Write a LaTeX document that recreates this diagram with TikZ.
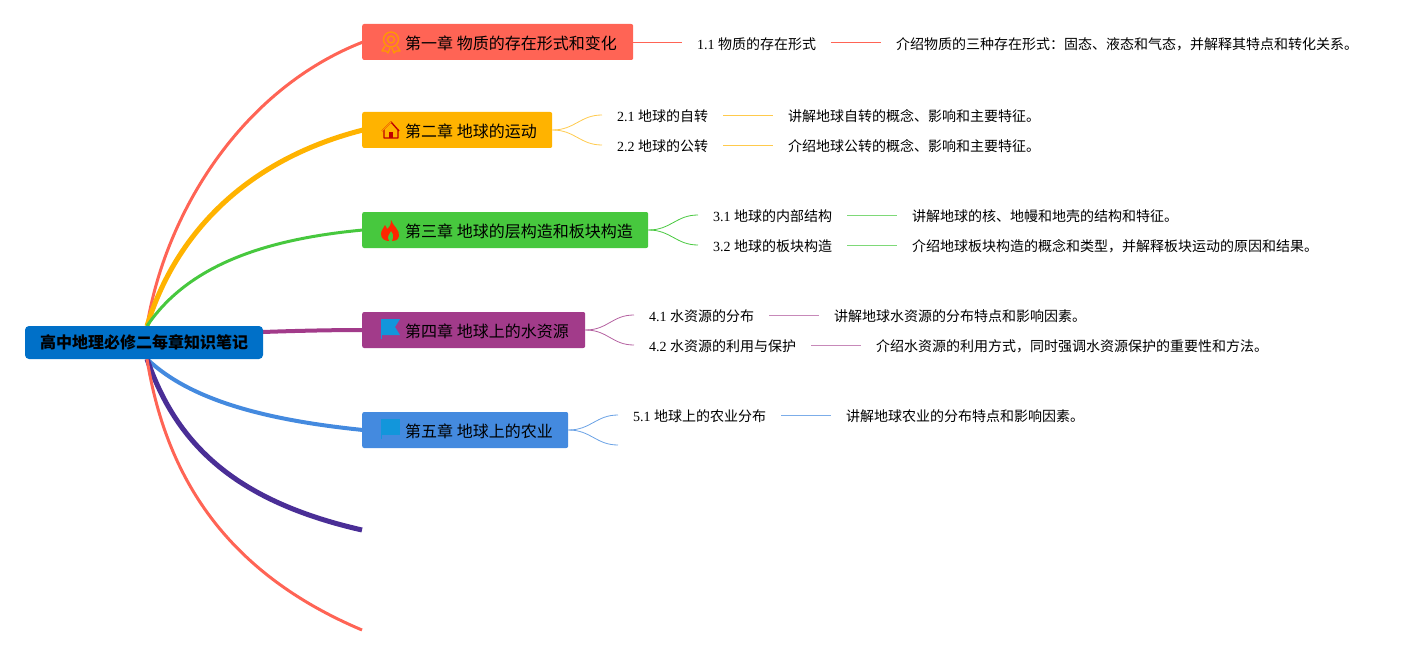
\documentclass[tikz,border=0pt]{standalone}
\usepackage{fontspec}
\setmainfont{Liberation Serif}
\newfontfamily\cjk{Noto Sans CJK SC}
\definecolor{rootblue}{HTML}{0070C8}
\definecolor{redc}{HTML}{FF6455}
\definecolor{yellowc}{HTML}{FFB300}
\definecolor{greenc}{HTML}{47C83E}
\definecolor{plumc}{HTML}{A23B8A}
\definecolor{bluec}{HTML}{448ADF}
\definecolor{indigoc}{HTML}{4A2E96}
\definecolor{flagblue}{HTML}{1296DB}
\tikzset{
  rootbox/.style={fill=rootblue, rounded corners=4pt, minimum height=33pt, minimum width=238pt, inner sep=0pt, font=\fontsize{16}{16}\cjk\bfseries},
  chapbox/.style={fill=#1, rounded corners=2pt, minimum height=36pt, inner sep=0pt, anchor=west, font=\fontsize{16}{16}\cjk},
  secnode/.style={inner xsep=15pt, inner ysep=0pt, anchor=west, font=\fontsize{14}{14}\selectfont},
  branch/.style={draw=#1, line width=3pt},
  twig/.style={draw=#1, line width=0.8pt},
}
\begin{document}
\begin{tikzpicture}[x=1pt,y=-1pt]
\useasboundingbox (0,0) rectangle (1418,655);

% main curves first, the boxes lie over them
\coordinate (rt) at (147,326);
\coordinate (rb) at (147,359);
\coordinate (free1) at (362,530);
\coordinate (free2) at (362,630);

\draw[branch=redc] (rt) .. controls (165,215) and (240,90) .. (363,42);
\draw[branch=yellowc, line width=5pt] (rt) .. controls (175,235) and (245,160) .. (363,130);
\draw[branch=greenc] (rt) .. controls (185,270) and (255,240) .. (363,230);
\draw[branch=plumc, line width=4pt] (263,332) .. controls (290,331) and (330,330) .. (363,330);
\draw[branch=bluec, line width=4pt] (rb) .. controls (190,400) and (265,420) .. (363,430);
\draw[branch=indigoc, line width=5pt] (rb) .. controls (175,440) and (230,500) .. (free1);
\draw[branch=redc] (rb) .. controls (165,470) and (220,570) .. (free2);

\node[rootbox] (root) at (144,342.5) {高中地理必修二每章知识笔记};

\node[chapbox=redc, minimum width=271pt] (ch1) at (362,42) {};
\node[chapbox=yellowc, minimum width=190pt] (ch2) at (362,130) {};
\node[chapbox=greenc, minimum width=286pt] (ch3) at (362,230) {};
\node[chapbox=plumc, minimum width=223pt] (ch4) at (362,330) {};
\node[chapbox=bluec, minimum width=206pt] (ch5) at (362,430) {};

\node[anchor=west, inner sep=0pt, font=\fontsize{16}{16}\cjk] (t1) at (405,43) {第一章 物质的存在形式和变化};
\node[anchor=west, inner sep=0pt, font=\fontsize{16}{16}\cjk] (t2) at (405,131) {第二章 地球的运动};
\node[anchor=west, inner sep=0pt, font=\fontsize{16}{16}\cjk] (t3) at (405,231) {第三章 地球的层构造和板块构造};
\node[anchor=west, inner sep=0pt, font=\fontsize{16}{16}\cjk] (t4) at (405,331) {第四章 地球上的水资源};
\node[anchor=west, inner sep=0pt, font=\fontsize{16}{16}\cjk] (t5) at (405,431) {第五章 地球上的农业};

% icons
\draw[yellowc!85!red, line width=1.3pt] (391,39.5) circle (7.5);
\draw[yellowc!85!red, line width=1.3pt] (391,39.5) circle (3.5);
\draw[yellowc!85!red, line width=1.3pt, line join=round] (385,46) -- (382,51) -- (386,51) -- (388,53) -- (390,48) (397,46) -- (400,51) -- (396,51) -- (394,53) -- (392,48);
\draw[red!75!black, line width=1.4pt, line join=round] (382,131) -- (391,122) -- (399,131) (384,129) -- (384,138) -- (398,138) -- (398,129);
\fill[red!75!black] (389,138) rectangle (393,132);
\draw[yellowc!85!red, line width=1.2pt] (382,131) -- (391,122);
\fill[red!85!yellow] (391,220) .. controls (393,226) and (400,230) .. (399,236) .. controls (398,241) and (394,241) .. (392,241) .. controls (395,236) and (392,232) .. (391,231) .. controls (390,234) and (386,236) .. (389,241) .. controls (385,241) and (381,239) .. (381,234) .. controls (381,230) and (384,228) .. (385,225) .. controls (386,227) and (387,228) .. (387,229) .. controls (390,227) and (391,224) .. (391,220) -- cycle;
\fill[flagblue] (381,319) -- (400,319) -- (395,327) -- (400,335) -- (381,335) -- cycle;
\draw[flagblue, line width=0.8pt] (381,319) -- (381,339);
\fill[flagblue] (381,419) -- (400,419) -- (400,435) -- (381,435) -- cycle;
\draw[flagblue, line width=0.8pt] (381,419) -- (381,439);

% first level sections
\node[secnode] (s11) at (682,44) {1.1 {\cjk 物质的存在形式}};
\node[secnode] (d11) at (881,44) {\cjk 介绍物质的三种存在形式：固态、液态和气态，并解释其特点和转化关系。};
\node[secnode] (s21) at (602,116) {2.1 {\cjk 地球的自转}};
\node[secnode] (d21) at (773,116) {\cjk 讲解地球自转的概念、影响和主要特征。};
\node[secnode] (s22) at (602,146) {2.2 {\cjk 地球的公转}};
\node[secnode] (d22) at (773,146) {\cjk 介绍地球公转的概念、影响和主要特征。};
\node[secnode] (s31) at (698,216) {3.1 {\cjk 地球的内部结构}};
\node[secnode] (d31) at (897,216) {\cjk 讲解地球的核、地幔和地壳的结构和特征。};
\node[secnode] (s32) at (698,246) {3.2 {\cjk 地球的板块构造}};
\node[secnode] (d32) at (897,246) {\cjk 介绍地球板块构造的概念和类型，并解释板块运动的原因和结果。};
\node[secnode] (s41) at (634,316) {4.1 {\cjk 水资源的分布}};
\node[secnode] (d41) at (819,316) {\cjk 讲解地球水资源的分布特点和影响因素。};
\node[secnode] (s42) at (634,346) {4.2 {\cjk 水资源的利用与保护}};
\node[secnode] (d42) at (861,346) {\cjk 介绍水资源的利用方式，同时强调水资源保护的重要性和方法。};
\node[secnode] (s51) at (618,416) {5.1 {\cjk 地球上的农业分布}};
\node[secnode] (d51) at (831,416) {\cjk 讲解地球农业的分布特点和影响因素。};
\coordinate (s52) at (618,445);

\draw[twig=redc] (ch1.east) -- (682,42);
\draw[twig=redc] (831,42) -- (881,42);
\draw[twig=yellowc!70] (ch2.east) .. controls (575,130) and (580,115) .. (602,115);
\draw[twig=yellowc!70] (ch2.east) .. controls (575,130) and (580,145) .. (602,145);
\draw[twig=yellowc!70] (723,115) -- (773,115);
\draw[twig=yellowc!70] (723,145) -- (773,145);
\draw[twig=greenc] (ch3.east) .. controls (671,230) and (676,215) .. (698,215);
\draw[twig=greenc] (ch3.east) .. controls (671,230) and (676,245) .. (698,245);
\draw[twig=greenc!70] (847,215) -- (897,215);
\draw[twig=greenc!70] (847,245) -- (897,245);
\draw[twig=plumc!80] (ch4.east) .. controls (608,330) and (612,315) .. (634,315);
\draw[twig=plumc!80] (ch4.east) .. controls (608,330) and (612,345) .. (634,345);
\draw[twig=plumc!60] (769,315) -- (819,315);
\draw[twig=plumc!60] (811,345) -- (861,345);
\draw[twig=bluec!80] (ch5.east) .. controls (591,430) and (596,415) .. (618,415);
\draw[twig=bluec!80] (ch5.east) .. controls (591,430) and (596,445) .. (s52);
\draw[twig=bluec!70] (781,415) -- (831,415);
\end{tikzpicture}
\end{document}
